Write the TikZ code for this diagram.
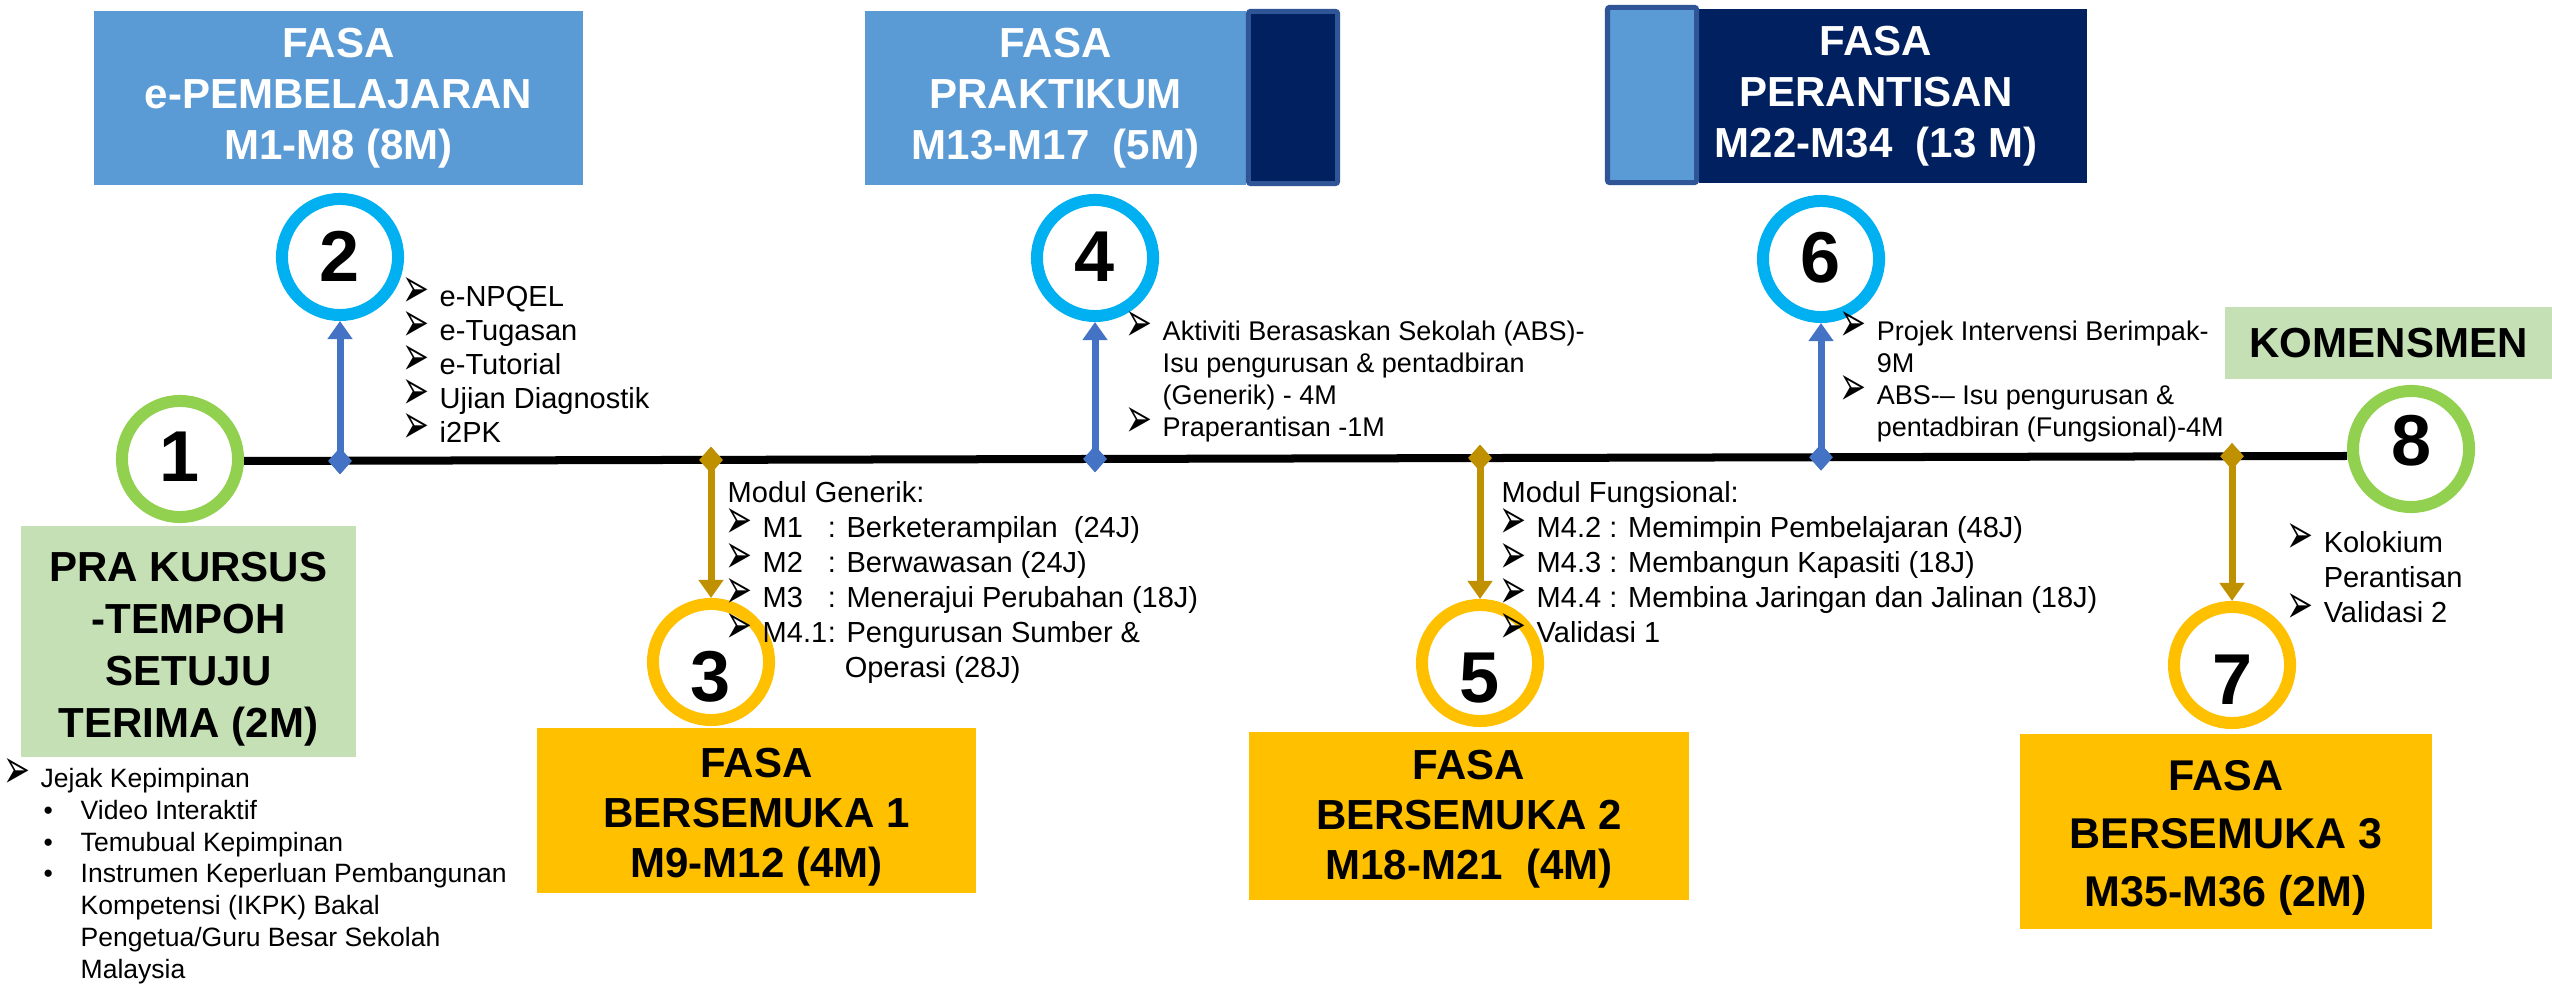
\documentclass[tikz,border=0pt]{standalone}
\usepackage{graphicx}
\usepackage{fontspec}
\setmainfont{Liberation Sans}
\newfontfamily\dejavu{DejaVu Sans}
\usetikzlibrary{shapes.geometric,arrows.meta,calc}
\definecolor{lblue}{HTML}{5B9BD5}
\definecolor{navy}{HTML}{002060}
\definecolor{edgeblue}{HTML}{2F5597}
\definecolor{cyanring}{HTML}{00B0F0}
\definecolor{greenring}{HTML}{92D050}
\definecolor{goldring}{HTML}{FFC000}
\definecolor{greenbox}{HTML}{C5E0B4}
\definecolor{conblue}{HTML}{4472C4}
\definecolor{congold}{HTML}{BF9000}
\newcommand\pxl[1]{\fpeval{#1*0.28453}pt}
\newcommand\fsz[2]{\fontsize{\pxl{#1}}{\pxl{#2}}\selectfont}
\newcommand\bul{\makebox[\pxl{35}][l]{\smash{\hspace*{\pxl{-2}}\raisebox{\pxl{-1}}{\resizebox*{\pxl{27}}{\pxl{30}}{\dejavu ➢}}}}}
\newcommand\fst{\rule{0pt}{0.8em}}
\newcommand\ind[1]{\hspace*{\pxl{#1}}}
\tikzset{
  ring/.style={circle, draw=#1, line width=0.12cm, minimum size=1.16cm, inner sep=0pt},
  digit/.style={inner sep=0pt, font=\bfseries\fsz{72}{72}},
  head/.style={align=center, inner sep=0pt, font=\bfseries\fsz{42}{51}},
  lst/.style={anchor=north west, inner sep=0pt, align=left},
  dia/.style={diamond, fill=#1, inner sep=0pt, minimum width=0.24cm, minimum height=0.27cm},
  con/.style={draw=#1, line width=0.07cm, -{Triangle[width=0.24cm,length=0.18cm]}},
  plain/.style={rectangle, inner sep=0pt},
  btext/.style={align=center, inner sep=0pt}
}
\begin{document}
\begin{tikzpicture}[x=0.01cm, y=-0.01cm]
\useasboundingbox[fill=white] (0,0) rectangle (2552,986);

% top phase boxes
\node[plain, fill=lblue, minimum width=4.89cm, minimum height=1.74cm, head, text=white] (bA) at (338.5,98) {FASA\\e-PEMBELAJARAN\\M1-M8 (8M)};
\node[plain, fill=lblue, minimum width=3.81cm, minimum height=1.74cm, head, text=white] (bB) at (1055.5,98) {FASA\\PRAKTIKUM\\M13-M17\ \ (5M)};
\node[plain, fill=navy, draw=edgeblue, line width=0.05cm, rounded corners=0.02cm, minimum width=0.89cm, minimum height=1.72cm] (bBd) at (1293,97.5) {};
\node[plain, fill=navy, minimum width=3.88cm, minimum height=1.74cm] (bC) at (1893,96) {};
\node[plain, fill=lblue, draw=edgeblue, line width=0.05cm, rounded corners=0.02cm, minimum width=0.89cm, minimum height=1.75cm] (bCl) at (1652,95) {};
\node[head, text=white] (tC) at (1876,96) {FASA\\PERANTISAN\\M22-M34\ \ (13 M)};

% green boxes
\node[plain, fill=greenbox, minimum width=3.35cm, minimum height=2.31cm] (g1) at (188.5,641.5) {};
\node[btext, font=\bfseries\fsz{42}{52}] (g1t) at (188.5,649.5) {PRA KURSUS\\-TEMPOH\\SETUJU\\TERIMA (2M)};
\node[plain, fill=greenbox, minimum width=3.27cm, minimum height=0.72cm, font=\bfseries\fsz{42}{42}] (kom) at (2388.5,343) {KOMENSMEN};

% bottom phase boxes
\node[plain, fill=goldring, minimum width=4.39cm, minimum height=1.65cm] (b3) at (756.5,810.5) {};
\node[btext, font=\bfseries\fsz{42}{50}] (b3t) at (756.5,817.5) {FASA\\BERSEMUKA 1\\M9-M12 (4M)};
\node[plain, fill=goldring, minimum width=4.40cm, minimum height=1.67cm] (b5) at (1469,816) {};
\node[btext, font=\bfseries\fsz{42}{50}] (b5t) at (1469,819.5) {FASA\\BERSEMUKA 2\\M18-M21\ \ (4M)};
\node[plain, fill=goldring, minimum width=4.12cm, minimum height=1.95cm] (b7) at (2226,831.5) {};
\node[btext, font=\bfseries\fsz{43}{58}] (b7t) at (2226,838) {FASA\\BERSEMUKA 3\\M35-M36 (2M)};

% rings
\node[ring=greenring] (c1) at (180,459) {};
\node[ring=cyanring] (c2) at (340,257) {};
\node[ring=goldring] (c3) at (711,662) {};
\node[ring=cyanring] (c4) at (1095,258) {};
\node[ring=goldring] (c5) at (1480,663) {};
\node[ring=cyanring] (c6) at (1821,259) {};
\node[ring=goldring] (c7) at (2232,665) {};
\node[ring=greenring] (c8) at (2411,449) {};

% main timeline
\draw[line width=0.08cm] ($(c1.east)+(0,2)$) -- ($(c8.west)+(0,7)$);

% connectors
\node[dia=conblue] (d2) at (340,461) {};
\node[dia=congold] (d3) at (711,460) {};
\node[dia=conblue] (d4) at (1095,459) {};
\node[dia=congold] (d5) at (1480,458) {};
\node[dia=conblue] (d6) at (1821,457.3) {};
\node[dia=congold] (d7) at (2232,456.3) {};
\draw[con=conblue] (d2.center) -- (c2);
\draw[con=conblue] (d4.center) -- (c4);
\draw[con=conblue] (d6.center) -- (c6);
\draw[con=congold] (d3.center) -- (c3);
\draw[con=congold] (d5.center) -- (c5);
\draw[con=congold] (d7.center) -- (c7);
\node[dia=conblue] (d2b) at (d2) {};
\node[dia=conblue] (d4b) at (d4) {};
\node[dia=conblue] (d6b) at (d6) {};
\node[dia=congold] (d3b) at (d3) {};
\node[dia=congold] (d5b) at (d5) {};
\node[dia=congold] (d7b) at (d7) {};

% digits
\node[digit] (n1) at (180,457) {1};
\node[digit] (n2) at (340,256) {2};
\node[digit] (n3) at (711,677) {3};
\node[digit] (n4) at (1095,257) {4};
\node[digit] (n5) at (1480,678) {5};
\node[digit] (n6) at (1821,258) {6};
\node[digit] (n7) at (2232,680) {7};
\node[digit] (n8) at (2411,441) {8};

% lists
\node[lst, font=\fsz{29}{34}] (t2) at (404,282.8) {\fst\bul e-NPQEL\\ \bul e-Tugasan\\ \bul e-Tutorial\\ \bul Ujian Diagnostik\\ \bul i2PK};
\node[lst, font=\fsz{27}{32}] (t4) at (1127,318.4) {\fst\bul Aktiviti Berasaskan Sekolah (ABS)-\\ \ind{35}Isu pengurusan \& pentadbiran\\ \ind{35}(Generik) - 4M\\ \bul Praperantisan -1M};
\node[lst, font=\fsz{27}{32}] (t6) at (1841,318.4) {\fst\bul Projek Intervensi Berimpak-\\ \ind{35}9M\\ \bul ABS-– Isu pengurusan \&\\ \ind{35}pentadbiran (Fungsional)-4M};
\node[lst, font=\fsz{29}{35}] (t3) at (727,478.8) {\fst Modul Generik:\\ \bul\makebox[\pxl{65}][l]{M1}: Berketerampilan\ \ (24J)\\ \bul\makebox[\pxl{65}][l]{M2}: Berwawasan (24J)\\ \bul\makebox[\pxl{65}][l]{M3}: Menerajui Perubahan (18J)\\ \bul\makebox[\pxl{65}][l]{M4.1}: Pengurusan Sumber \&\\ \ind{117}Operasi (28J)};
\node[lst, font=\fsz{29}{35}] (t5) at (1501,478.8) {\fst Modul Fungsional:\\ \bul M4.2 : Memimpin Pembelajaran (48J)\\ \bul M4.3 : Membangun Kapasiti (18J)\\ \bul M4.4 : Membina Jaringan dan Jalinan (18J)\\ \bul Validasi 1};
\node[lst, font=\fsz{29}{35}] (t7) at (2288,528.8) {\fst\bul Kolokium\\ \ind{35}Perantisan\\ \bul Validasi 2};
\node[lst, font=\fsz{26.5}{31.7}] (t1) at (5,765.8) {\fst\bul Jejak Kepimpinan\\ \ind{38}\makebox[\pxl{37}][l]{•}Video Interaktif\\ \ind{38}\makebox[\pxl{37}][l]{•}Temubual Kepimpinan\\ \ind{38}\makebox[\pxl{37}][l]{•}Instrumen Keperluan Pembangunan\\ \ind{75}Kompetensi (IKPK) Bakal\\ \ind{75}Pengetua/Guru Besar Sekolah\\ \ind{75}Malaysia};
\end{tikzpicture}
\end{document}
